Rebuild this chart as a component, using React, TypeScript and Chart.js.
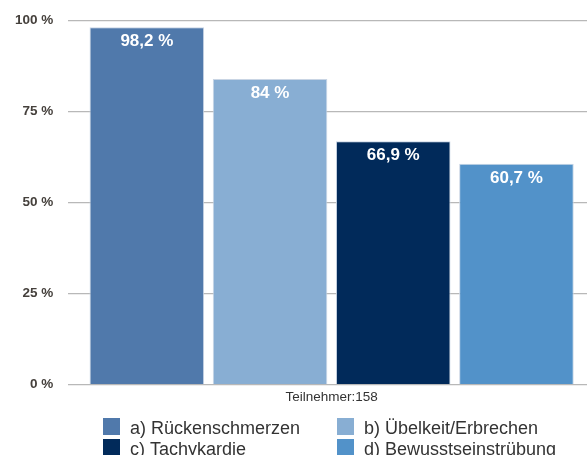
import React, { useEffect, useRef } from "react";
import { Chart, registerables } from "chart.js";

Chart.register(...registerables);

const categories = ["Teilnehmer:158"];
const seriesNames = [
  "a) Rückenschmerzen",
  "b) Übelkeit/Erbrechen",
  "c) Tachykardie",
  "d) Bewusstseinstrübung",
];
const seriesValues = [98.2, 84, 66.9, 60.7];
const seriesColors = ["#5079ab", "#88aed3", "#012a5a", "#5292c9"];
const yTicks = [0, 25, 50, 75, 100];

const FONT = '"Liberation Sans", Arial, sans-serif';

const valueLabelPlugin = {
  id: "valueLabels",
  afterDatasetsDraw(chart: any) {
    const ctx = chart.ctx;
    ctx.save();
    ctx.fillStyle = "#ffffff";
    ctx.font = `bold 17px ${FONT}`;
    ctx.textAlign = "center";
    ctx.textBaseline = "alphabetic";
    chart.data.datasets.forEach((ds: any, i: number) => {
      const meta = chart.getDatasetMeta(i);
      meta.data.forEach((bar: any, j: number) => {
        const v = ds.data[j];
        const txt = String(v).replace(".", ",") + " %";
        ctx.fillText(txt, bar.x, bar.y + 19);
      });
    });
    ctx.restore();
  },
};

const gridLegendPlugin = {
  id: "gridLegend",
  afterDraw(chart: any) {
    const ctx = chart.ctx;
    ctx.save();
    ctx.font = `18px ${FONT}`;
    ctx.textBaseline = "alphabetic";
    ctx.textAlign = "left";
    const colX = [103, 337];
    const rowY = [418, 439];
    chart.data.datasets.forEach((ds: any, i: number) => {
      const col = i % 2;
      const row = Math.floor(i / 2);
      const x = colX[col];
      const y = rowY[row];
      ctx.fillStyle = ds.backgroundColor;
      ctx.fillRect(x, y, 17, 17);
      ctx.fillStyle = "#333333";
      ctx.fillText(ds.label, x + 27, y + 15.5);
    });
    ctx.restore();
  },
};

export default function App() {
  const ref = useRef<HTMLCanvasElement>(null);
  useEffect(() => {
    if (!ref.current) return;
    const chart = new Chart(ref.current, {
      type: "bar",
      data: {
        labels: categories,
        datasets: seriesNames.map((name, i) => ({
          label: name,
          data: [seriesValues[i]],
          backgroundColor: seriesColors[i],
          borderColor: "#c9d5e4",
          borderWidth: 1,
          categoryPercentage: 0.9356,
          barPercentage: 0.93,
        })),
      },
      options: {
        animation: false,
        responsive: true,
        maintainAspectRatio: false,
        layout: { padding: { left: 0, right: 0, top: 19, bottom: 44.2 } },
        plugins: {
          legend: { display: false },
          tooltip: { enabled: false },
        },
        scales: {
          x: {
            grid: { display: false, drawTicks: false },
            border: { display: false },
            ticks: {
              padding: 5,
              color: "#333333",
              font: { family: FONT, size: 13.5 },
            },
          },
          y: {
            min: 0,
            max: 100,
            afterBuildTicks: (axis: any) => {
              axis.ticks = yTicks.map((v) => ({ value: v }));
            },
            grid: { color: "#b8b8b8", lineWidth: 1.2, drawTicks: false },
            border: { display: false },
            ticks: {
              padding: 15,
              color: "#45403c",
              font: { family: FONT, size: 13.5, weight: "bold", lineHeight: 0.85 },
              callback: (v: any) => `${v} %`,
            },
          },
        },
      },
      plugins: [valueLabelPlugin, gridLegendPlugin],
    });
    return () => chart.destroy();
  }, []);
  return (
    <div
      style={{
        position: "absolute",
        left: 0,
        top: 0,
        width: 587,
        height: 455,
        overflow: "hidden",
      }}
    >
      <div style={{ position: "relative", width: 595, height: 455 }}>
        <canvas ref={ref} />
      </div>
    </div>
  );
}
